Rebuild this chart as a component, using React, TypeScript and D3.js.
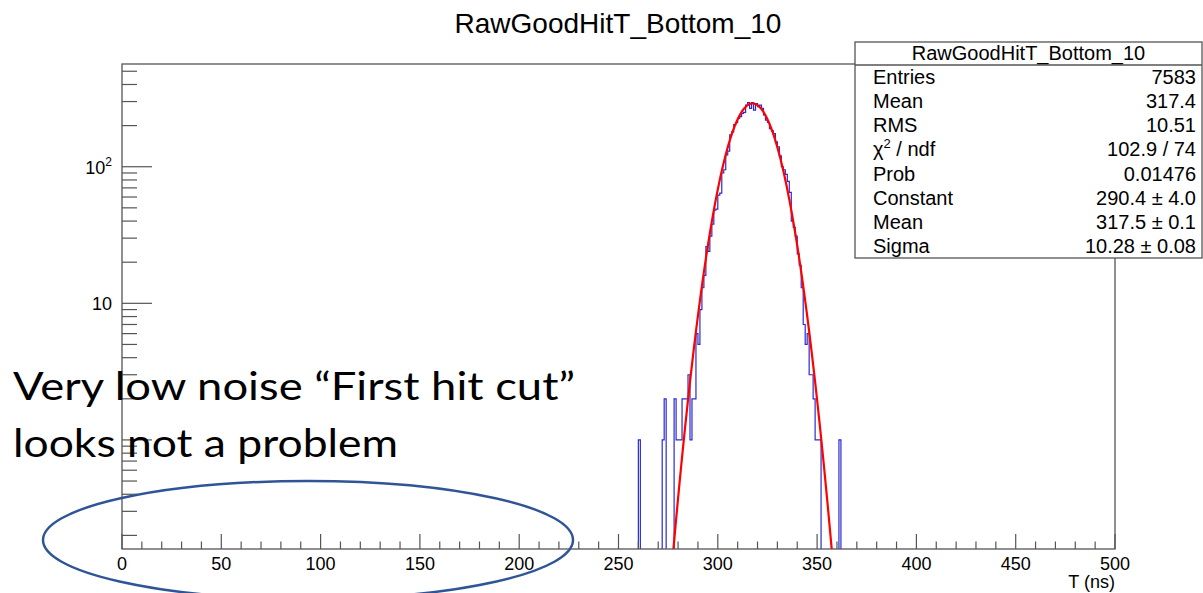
import React from "react";
import * as d3 from "d3";

// ---------- data ----------
const histTitle = "RawGoodHitT_Bottom_10";
const xAxisTitle = "T (ns)";
const xDomain = [0, 500];
const yDomain = [0.159, 565];
const xMajorTicks = [0, 50, 100, 150, 200, 250, 300, 350, 400, 450, 500];
const binWidth = 1;
const firstBin = 260;
// counts for bins [260,261) ... [361,362), all other bins are empty
const binCounts = [
  1, 0, 0, 0, 0, 0, 0, 0, 0, 0,
  0, 0, 1, 2, 0, 0, 0, 0, 2, 1,
  1, 1, 2, 2, 2, 3, 1, 2, 2, 6,
  5, 9, 13, 16, 26, 24, 31, 38, 48, 49,
  62, 64, 90, 95, 122, 130, 171, 180, 203, 210,
  226, 233, 246, 250, 282, 295, 267, 295, 260, 290,
  275, 282, 267, 240, 219, 211, 190, 183, 175, 152,
  140, 120, 100, 95, 88, 78, 65, 40, 36, 31,
  23, 19, 13, 7, 5, 6, 3, 3, 2, 1,
  1, 1, 0, 0, 0, 0, 0, 0, 0, 0,
  0, 1,
];
// fit parameters (gaus)
const fitConstant = 290.4;
const fitMean = 317.5;
const fitSigma = 10.28;

const statLabels = ["Entries", "Mean", "RMS", "CHI2", "Prob", "Constant", "Mean", "Sigma"];
const statValues = ["7583", "317.4", "10.51", "102.9 / 74", "0.01476", "290.4 \u00b1 4.0", "317.5 \u00b1 0.1", "10.28 \u00b1 0.08"];

const noteLines = ["Very low noise \u201cFirst hit cut\u201d", "looks not a problem"];

// ---------- layout ----------
const W = 1203;
const H = 593;
const L = 122, R = 1115, T = 64, B = 549;
const FONT = "'Liberation Sans', Arial, Helvetica, sans-serif";

export default function App() {
  const x = d3.scaleLinear().domain(xDomain).range([L, R]);
  const y = d3.scaleLog().domain(yDomain).range([B, T]);
  const yLow = yDomain[0] * 0.5;

  // histogram outline (ROOT style step)
  const n = binCounts.length;
  const vy = (v: number) => y(v > 0 ? v : yLow);
  let prevY = vy(0);
  let d = `M${x(firstBin - 5)},${prevY}`;
  for (let i = 0; i < n; i++) {
    const x0 = x(firstBin + i * binWidth);
    const x1 = x(firstBin + (i + 1) * binWidth);
    const yy = vy(binCounts[i]);
    d += `L${x0},${prevY}L${x0},${yy}L${x1},${yy}`;
    prevY = yy;
  }
  const xEnd = x(firstBin + n * binWidth);
  d += `L${xEnd},${vy(0)}L${xEnd + 10},${vy(0)}`;

  // fit curve
  const fitPts: [number, number][] = [];
  for (let t = 260; t <= 375; t += 0.25) {
    const v = fitConstant * Math.exp(-0.5 * ((t - fitMean) / fitSigma) ** 2);
    fitPts.push([x(t), y(Math.max(v, yLow))]);
  }
  const fitPath = d3.line()(fitPts) || "";

  // y ticks
  const yTicks: { v: number; major: boolean }[] = [];
  for (let e = -1; e <= 2; e++) {
    for (let m = 1; m <= 9; m++) {
      const v = m * Math.pow(10, e);
      if (v >= yDomain[0] && v <= yDomain[1]) yTicks.push({ v, major: m === 1 });
    }
  }
  const xMinor: number[] = [];
  for (let t = 0; t <= 500; t += 10) if (t % 50 !== 0) xMinor.push(t);

  // stats box
  const bx0 = 855, bx1 = 1202, by0 = 42, bySep = 65, by1 = 258;
  const rowH = (by1 - bySep) / statLabels.length;

  return (
    <svg width={W} height={H} style={{ position: "absolute", left: 0, top: 0, background: "#fff" }} fontFamily={FONT}>
      <defs>
        <clipPath id="frame">
          <rect x={L} y={T} width={R - L} height={B - T} />
        </clipPath>
      </defs>
      <rect x={0} y={0} width={W} height={H} fill="#fff" />

      <text x={618} y={33} fontSize={28} textAnchor="middle" fill="#000">{histTitle}</text>

      <g clipPath="url(#frame)">
        <path d={d} fill="none" stroke="#2b2bd0" strokeWidth={1.2} />
        <path d={fitPath} fill="none" stroke="#ff0000" strokeWidth={2.2} />
      </g>

      {/* frame */}
      <rect x={L} y={T} width={R - L} height={B - T} fill="none" stroke="#555" strokeWidth={1.3} />

      {/* y ticks */}
      {yTicks.map((t, i) => (
        <line key={"yt" + i} x1={L} x2={L + (t.major ? 30 : 15)} y1={y(t.v)} y2={y(t.v)} stroke="#555" strokeWidth={1.2} />
      ))}
      <text x={112} y={y(10) + 7} fontSize={18} textAnchor="end" fill="#000">10</text>
      <text x={112} y={y(100) + 7} fontSize={18} textAnchor="end" fill="#000">
        10<tspan fontSize={12} dy={-8}>2</tspan>
      </text>

      {/* x ticks */}
      {xMajorTicks.map((t) => (
        <g key={"xm" + t}>
          <line x1={x(t)} x2={x(t)} y1={B} y2={B - 15} stroke="#555" strokeWidth={1.2} />
          <text x={x(t)} y={570} fontSize={18} textAnchor="middle" fill="#000">{t}</text>
        </g>
      ))}
      {xMinor.map((t) => (
        <line key={"xn" + t} x1={x(t)} x2={x(t)} y1={B} y2={B - 7.5} stroke="#555" strokeWidth={1.2} />
      ))}
      <text x={R} y={588} fontSize={18} textAnchor="end" fill="#000">{xAxisTitle}</text>

      {/* stats box */}
      <rect x={bx0} y={by0} width={bx1 - bx0} height={by1 - by0} fill="#fff" stroke="#555" strokeWidth={1.3} />
      <line x1={bx0} x2={bx1} y1={bySep} y2={bySep} stroke="#555" strokeWidth={1.3} />
      <text x={(bx0 + bx1) / 2} y={60} fontSize={20} textAnchor="middle" fill="#000">{histTitle}</text>
      {statLabels.map((lab, i) => {
        const cy = bySep + rowH * (i + 0.5) + 7;
        return (
          <g key={"st" + i}>
            {lab === "CHI2" ? (
              <text x={873} y={cy} fontSize={20} fill="#000">
                {"\u03c7"}<tspan fontSize={13} dy={-8}>2</tspan><tspan dy={8}>{" / ndf"}</tspan>
              </text>
            ) : (
              <text x={873} y={cy} fontSize={20} fill="#000">{lab}</text>
            )}
            <text x={1196} y={cy} fontSize={20} textAnchor="end" fill="#000">{statValues[i]}</text>
          </g>
        );
      })}

      {/* annotation */}
      <text x={13} y={400} fontSize={39} fontFamily="Lato, 'Open Sans', sans-serif" fill="#000" textLength={562} lengthAdjust="spacingAndGlyphs">{noteLines[0]}</text>
      <text x={13} y={457} fontSize={39} fontFamily="Lato, 'Open Sans', sans-serif" fill="#000" textLength={385} lengthAdjust="spacingAndGlyphs">{noteLines[1]}</text>
      <ellipse cx={308} cy={540} rx={265} ry={59} fill="none" stroke="#2f5597" strokeWidth={2.5} />
    </svg>
  );
}
